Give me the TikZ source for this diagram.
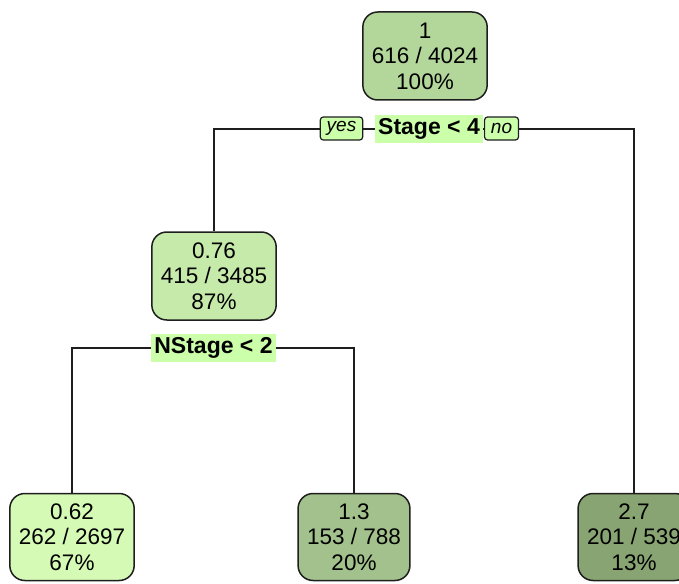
\documentclass[tikz,border=0pt]{standalone}
\usepackage{fontspec}
\setmainfont{Liberation Sans}
\usetikzlibrary{positioning, backgrounds}

\definecolor{rootfill}{RGB}{179,215,154}
\definecolor{midfill}{RGB}{198,234,170}
\definecolor{leafafill}{RGB}{213,250,181}
\definecolor{leafbfill}{RGB}{162,193,140}
\definecolor{leafcfill}{RGB}{136,164,114}
\definecolor{splitfill}{RGB}{204,255,170}
\definecolor{edgecol}{RGB}{30,30,30}

\begin{document}
\begin{tikzpicture}[
    x=0.5pt, y=-0.5pt,
    tnode/.style={draw=edgecol, line width=0.75pt, rounded corners=7.5pt, align=center,
        font=\fontsize{11.25pt}{12.75pt}\selectfont, inner xsep=4.5pt, inner ysep=3pt,
        minimum height=44pt},
    split/.style={fill=splitfill, font=\fontsize{11.5pt}{13pt}\selectfont\bfseries,
        inner xsep=1.5pt, inner ysep=2pt, minimum height=14pt},
    yn/.style={draw=edgecol, line width=0.6pt, fill=splitfill, rounded corners=1.5pt,
        font=\fontsize{9.5pt}{11pt}\selectfont\itshape, inner xsep=3.2pt, inner ysep=1pt,
        minimum height=11.5pt},
    edge/.style={draw=edgecol, line width=0.65pt},
]
\useasboundingbox (0,0) rectangle (679,583);
% ============================================================
% root and first split
% ============================================================
\node[tnode, fill=rootfill] (n1) at (425,56) {1\\616 / 4024\\100\%};
\node[split] (s1) at (429,129) {Stage < 4};
\node[yn] (yes) at (341.5,128.5) {yes};
\node[yn] (no) at (501.5,128.5) {no};
% ============================================================
% second level
% ============================================================
\node[tnode, fill=midfill] (n2) at (214,276) {0.76\\415 / 3485\\87\%};
\node[split] (s2) at (213.5,348) {NStage < 2};
% ============================================================
% leaves
% ============================================================
\node[tnode, fill=leafafill, minimum height=43.5pt] (n4) at (72,537) {0.62\\262 / 2697\\67\%};
\node[tnode, fill=leafbfill, minimum height=43.5pt] (n5) at (354,537) {1.3\\153 / 788\\20\%};
\node[tnode, fill=leafcfill, minimum height=43.5pt] (n6) at (634,537) {2.7\\201 / 539\\13\%};
% --- connectors (behind the labels) ---
\begin{pgfonlayer}{background}
\draw[edge] (n2.north) |- (s1.center) -| (n6.north);
\draw[edge] (n4.north) |- (s2.center) -| (n5.north);
\end{pgfonlayer}
\end{tikzpicture}
\end{document}
